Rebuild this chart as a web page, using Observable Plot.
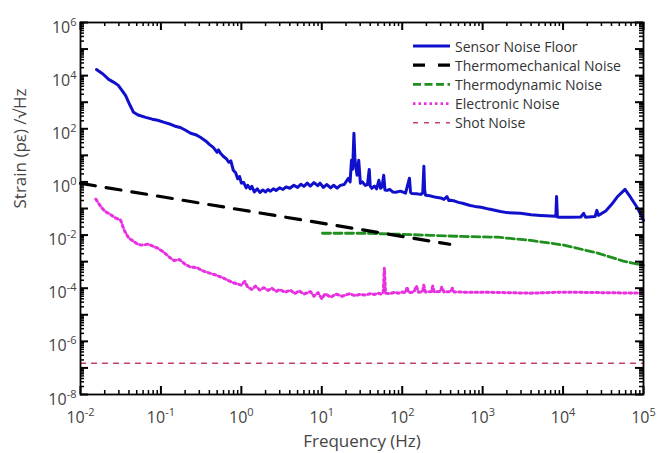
<!DOCTYPE html>
<html><head><meta charset="utf-8">
<script src="https://cdn.jsdelivr.net/npm/d3@7"></script>
<script src="https://cdn.jsdelivr.net/npm/@observablehq/plot@0.6"></script>
<style>
body{margin:0;background:#fff;}
#wrap{position:relative;width:658px;height:453px;font-family:"Open Sans",sans-serif;}
#legend{position:absolute;left:0;top:0;pointer-events:none;}
</style></head><body><div id="wrap"></div>
<script>
// ---- data (frequency in Hz, strain in pε/√Hz) ----
const sensorFreq = [0.0158,0.019,0.0224,0.026,0.0295,0.0363,0.041,0.0457,0.052,0.0646,0.078,0.0912,0.11,0.132,0.15,0.174,0.2,0.234,0.27,0.309,0.36,0.4,0.447,0.5,0.52,0.55,0.6,0.65,0.7,0.74,0.794,0.85,0.9,0.95,1.0,1.07,1.15,1.2,1.29,1.35,1.45,1.58,1.7,1.85,2.0,2.14,2.3,2.5,2.7,3.0,3.3,3.6,4.0,4.5,5.0,5.5,6.0,6.6,7.2,8.0,8.9,9.5,10.5,11.5,12.9,14,15.5,17,19,21.4,22.5,23.4,24.2,25.1,25.8,26.3,27.5,28.8,30.2,32,34.7,37,38.9,40,41.7,45,48,51.3,53.7,56,58.9,61,64.6,70,76,83.2,95,110,123,127,132,150,170,180,186,190,195,220,263,300,330,360,380,398,450,500,562,700,800,955,1200,1660,2000,2950,4000,5250,7000,8130,8300,8500,9120,12300,16600,18000,19000,25000,26300,27500,33900,40000,47000,58900,69200,85100,100000];
const sensorStrain = [1.7e4,1.15e4,7.2e3,5.6e3,4.3e3,1.8e3,800,417,330,269,230,209,175,148,125,112,90,67.6,60,47.9,35,26,20,13,16,12,9,7.5,5.5,6.2,2.75,2.2,1.3,1.6,0.9,0.95,0.6,0.75,0.55,0.68,0.42,0.55,0.4,0.5,0.42,0.52,0.45,0.55,0.48,0.6,0.52,0.65,0.58,0.75,0.62,0.82,0.68,0.9,0.7,0.95,0.72,0.9,0.62,0.8,0.6,0.75,0.58,0.74,0.8,1.38,1.0,6.5,3,67.6,8,4.2,1.8,6.5,0.89,1.0,0.74,0.8,2.95,0.7,0.575,0.7,0.55,1.15,0.575,0.65,1.78,0.5,0.48,0.52,0.42,0.41,0.45,0.38,1.38,0.4,0.37,0.36,0.34,0.38,3.9,0.5,0.316,0.3,0.263,0.25,0.22,0.28,0.2,0.204,0.19,0.17,0.158,0.13,0.12,0.112,0.095,0.0776,0.07,0.066,0.058,0.055,0.052,0.051,0.28,0.048,0.047,0.047,0.048,0.066,0.047,0.05,0.085,0.055,0.08,0.14,0.27,0.525,0.26,0.1,0.036];

const thermomechFreq = [0.01, 390];
const thermomechStrain = [0.885, 0.0045];

const thermodynFreq = [10.2,30,95,224,537,1550,3980,10200,26900,56200,100000];
const thermodynStrain = [0.0117,0.0117,0.0107,0.0098,0.0089,0.0083,0.0063,0.0042,0.0021,0.00105,0.00072];

const electronicFreq = [0.0155,0.0178,0.02,0.0234,0.027,0.0316,0.035,0.0398,0.045,0.05,0.0562,0.07,0.0912,0.11,0.13,0.145,0.17,0.2,0.234,0.28,0.33,0.417,0.5,0.6,0.676,0.8,1.0,1.1,1.2,1.35,1.5,1.7,1.9,2.14,2.4,2.7,3.0,3.5,4.07,4.6,5.2,6.0,7.2,8,9,10,11,12.9,15,18,22,26,30,35,40,45,50,55,58,60,62,70,80,90,100,110,115,120,140,150,160,180,185,195,230,240,250,300,310,330,400,420,440,600,955,2000,3980,8000,12300,30000,100000];
const electronicStrain = [0.224,0.12,0.08,0.06,0.045,0.036,0.015,0.0076,0.006,0.0048,0.0042,0.0045,0.0032,0.0022,0.0014,0.0011,0.0012,0.0008,0.00062,0.0006,0.00045,0.00036,0.0003,0.00024,0.0002,0.00016,0.00013,0.00018,0.00011,0.00009,0.00012,0.000085,0.000105,0.000083,0.0001,0.000075,0.00009,0.00007,0.000085,0.000062,0.00008,0.00006,0.000075,0.00005,0.000068,0.00004,0.000062,0.000046,0.00006,0.00005,0.000062,0.000052,0.000059,0.000055,0.000062,0.000058,0.000065,0.00006,0.000068,0.00056,0.000065,0.000062,0.00007,0.000065,0.000072,0.000068,0.00011,0.000068,0.000072,0.00012,0.00007,0.000075,0.00013,0.000072,0.000075,0.00012,0.000072,0.000075,0.00011,0.000072,0.000074,0.0001,0.000072,0.000071,0.000071,0.000068,0.000065,0.00007,0.000071,0.000068,0.000065];

const shotFreq = [0.01, 100000];
const shotStrain = [1.5e-7, 1.5e-7];

const xMajor = [1e-2,1e-1,1e0,1e1,1e2,1e3,1e4,1e5];
const xTickLabels = ["10^-2","10^-1","10^0","10^1","10^2","10^3","10^4","10^5"];
const yMajor = [1e-8,1e-6,1e-4,1e-2,1e0,1e2,1e4,1e6];
const yTickLabels = ["10^-8","10^-6","10^-4","10^-2","10^0","10^2","10^4","10^6"];
const yMajorAll = [1e-8,1e-7,1e-6,1e-5,1e-4,1e-3,1e-2,1e-1,1e0,1e1,1e2,1e3,1e4,1e5,1e6];

const seriesNames = ["Sensor Noise Floor","Thermomechanical Noise","Thermodynamic Noise","Electronic Noise","Shot Noise"];
const seriesColors = ["#1010cc","#000000","#1f8f1f","#e830e0","#c0406e"];

// minor ticks (2..9 × 10^k)
function minors(lo, hi){ const out=[]; for(let k=lo;k<hi;k++) for(let m=2;m<=9;m++) out.push(m*Math.pow(10,k)); return out; }
const xMinor = minors(-2,5);
const yMinor = minors(-8,6);

const zip = (f,s) => f.map((v,i)=>({f:v, s:s[i]}));
const sensor = zip(sensorFreq, sensorStrain);
const thermomech = zip(thermomechFreq, thermomechStrain);
const thermodyn = zip(thermodynFreq, thermodynStrain);
const electronic = zip(electronicFreq, electronicStrain);
const shot = zip(shotFreq, shotStrain);

const fmtX = d => xTickLabels[xMajor.findIndex(v => Math.abs(Math.log10(v)-Math.log10(d))<1e-6)] ?? "";
const fmtY = d => yTickLabels[yMajor.findIndex(v => Math.abs(Math.log10(v)-Math.log10(d))<1e-6)] ?? "";

const W = 658, H = 453, ML = 80, MR = 15, MT = 22, MB = 59;
const PW = W - ML - MR, PH = H - MT - MB;
const MAJ = 8, MIN = 4;

const chart = Plot.plot({
  width: W, height: H,
  marginLeft: ML, marginRight: MR, marginTop: MT, marginBottom: MB,
  style: {fontFamily: "'Open Sans', sans-serif", fontSize: "16px", color: "#000", background: "white"},
  x: {type: "log", domain: [1e-2, 1e5]},
  y: {type: "log", domain: [1e-8, 1e6]},
  marks: [
    Plot.line(shot, {x: "f", y: "s", stroke: seriesColors[4], strokeWidth: 1.4, strokeDasharray: "5,6"}),
    Plot.line(electronic, {x: "f", y: "s", stroke: seriesColors[3], strokeWidth: 3, strokeDasharray: "2.5,3"}),
    Plot.line(thermodyn, {x: "f", y: "s", stroke: seriesColors[2], strokeWidth: 2.8, strokeDasharray: "8,3.5"}),
    Plot.line(thermomech, {x: "f", y: "s", stroke: seriesColors[1], strokeWidth: 3.2, strokeDasharray: "15,11"}),
    Plot.line(sensor, {x: "f", y: "s", stroke: seriesColors[0], strokeWidth: 3, strokeLinejoin: "round"}),
    Plot.frame({stroke: "#000", strokeWidth: 1.8}),
    // inward tick marks on all four sides
    Plot.tickX(xMajor, {x: d => d, insetTop: PH - MAJ, stroke: "#000", strokeWidth: 2}),
    Plot.tickX(xMinor, {x: d => d, insetTop: PH - MIN, stroke: "#000", strokeWidth: 1.5}),
    Plot.tickX(xMajor, {x: d => d, insetBottom: PH - MAJ, stroke: "#000", strokeWidth: 2}),
    Plot.tickX(xMinor, {x: d => d, insetBottom: PH - MIN, stroke: "#000", strokeWidth: 1.5}),
    Plot.tickY(yMajorAll, {y: d => d, insetRight: PW - MAJ, stroke: "#000", strokeWidth: 2}),
    Plot.tickY(yMinor, {y: d => d, insetRight: PW - MIN, stroke: "#000", strokeWidth: 1.5}),
    Plot.tickY(yMajorAll, {y: d => d, insetLeft: PW - MAJ, stroke: "#000", strokeWidth: 2}),
    Plot.tickY(yMinor, {y: d => d, insetLeft: PW - MIN, stroke: "#000", strokeWidth: 1.5}),
    // tick labels
    Plot.axisX({anchor: "bottom", ticks: xMajor, tickSize: 0, tickPadding: 17, tickFormat: fmtX, label: null, fill: "#444", fontSize: 16}),
    Plot.axisY({anchor: "left", ticks: yMajor, tickSize: 0, tickPadding: 4, tickFormat: fmtY, label: null, fill: "#444", fontSize: 16, dy: 5}),
    // axis titles
    Plot.text(["Frequency (Hz)"], {frameAnchor: "bottom", dy: 47, text: d => d, fill: "#444", fontSize: 17, lineAnchor: "middle"}),
    Plot.text(["Strain (pε) /√Hz"], {frameAnchor: "left", dx: -60, rotate: -90, text: d => d, fill: "#444", fontSize: 17, lineAnchor: "middle"})
  ]
});

// superscript exponents in tick labels
const ns = "http://www.w3.org/2000/svg";
chart.querySelectorAll('g[aria-label$="tick label"] text').forEach(t => {
  const m = (t.textContent || "").match(/^10\^(.+)$/);
  if (!m) return;
  t.textContent = "";
  const a = document.createElementNS(ns, "tspan"); a.textContent = "10"; t.appendChild(a);
  const b = document.createElementNS(ns, "tspan"); b.textContent = m[1];
  b.setAttribute("dy", "-7"); b.setAttribute("font-size", "11"); t.appendChild(b);
});

const wrap = document.getElementById("wrap");
wrap.appendChild(chart);

// legend overlay
const lg = d3.select(wrap).append("svg").attr("id", "legend").attr("width", W).attr("height", H);
const dashes = [null, "12,13", "8,3.5", "2.5,3", "5,6"];
const widths = [3, 3.2, 2.8, 2.6, 1.4];
seriesNames.forEach((name, i) => {
  const y = 46 + i * 19.2;
  lg.append("line").attr("x1", 413).attr("x2", 450).attr("y1", y).attr("y2", y)
    .attr("stroke", seriesColors[i]).attr("stroke-width", widths[i])
    .attr("stroke-dasharray", dashes[i]);
  lg.append("text").attr("x", 455).attr("y", y).attr("dominant-baseline", "central")
    .attr("font-family", "'Open Sans', sans-serif").attr("font-size", 14).attr("fill", "#333")
    .text(name);
});
</script></body></html>
